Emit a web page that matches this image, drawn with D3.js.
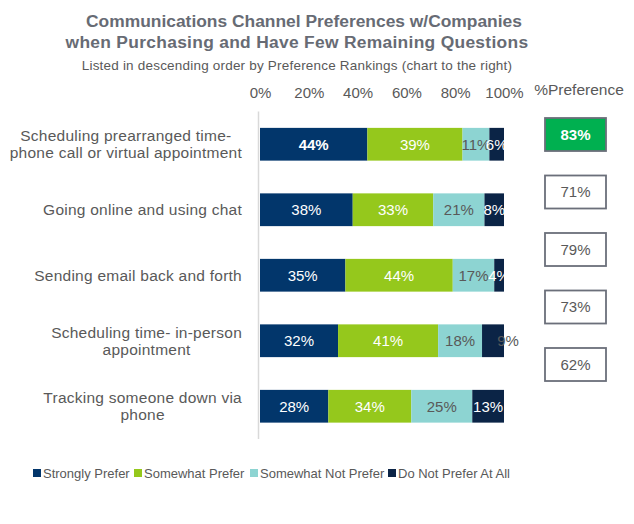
<!DOCTYPE html>
<html><head><meta charset="utf-8">
<script src="https://cdn.jsdelivr.net/npm/d3@7"></script>
<style>body{margin:0;background:#fff}svg{display:block;font-family:"Liberation Sans",Arial,sans-serif}</style>
</head><body><svg id="c" width="634" height="524"></svg>
<script>
const categories = [
  "Scheduling prearranged time-|phone call or virtual appointment",
  "Going online and using chat",
  "Sending email back and forth",
  "Scheduling time- in-person|appointment",
  "Tracking someone down via|phone"
];
const seriesNames = ["Strongly Prefer","Somewhat Prefer","Somewhat Not Prefer","Do Not Prefer At All"];
const stronglyPrefer    = [44,38,35,32,28];
const somewhatPrefer    = [39,33,44,41,34];
const somewhatNotPrefer = [11,21,17,18,25];
const doNotPrefer       = [6,8,4,9,13];
const preference = [83,71,79,73,62];
const xTicks = [0,20,40,60,80,100];
const title = ["Communications Channel Preferences w/Companies","when Purchasing and Have Few Remaining Questions"];
const subtitle = "Listed in descending order by Preference Rankings (chart to the right)";

const colors = ["#02366b","#95c81c","#8dd4d2","#0b2446"];
const labelColors = ["#ffffff","#ffffff","#595959","#ffffff"];
const grey = "#595959";

const svg = d3.select("#c");
const seriesVals = [stronglyPrefer, somewhatPrefer, somewhatNotPrefer, doNotPrefer];
const rows = categories.map((c,i)=>{const o={cat:c}; seriesNames.forEach((s,j)=>o[s]=seriesVals[j][i]); return o;});
const stack = d3.stack().keys(seriesNames)(rows);

const x = d3.scaleLinear().domain([0,100]).range([260,504]);
const y = d3.scaleBand().domain(categories).range([111.5,439]).paddingInner(0.5).paddingOuter(0.25);

// titles
svg.selectAll("text.title").data(title).join("text").attr("class","title")
  .attr("x",(d,i)=>i===0?304:297).attr("y",(d,i)=>27+i*21).attr("text-anchor","middle")
  .attr("font-size",17.4).attr("font-weight","bold").attr("fill","#676b74")
  .attr("letter-spacing",(d,i)=>i===0?0:0.3).text(d=>d);
svg.append("text").attr("x",297).attr("y",70).attr("text-anchor","middle")
  .attr("font-size",13.5).attr("letter-spacing",0.2).attr("fill",grey).text(subtitle);

// x axis at top
const xAxis = svg.append("g").attr("transform","translate(0,98)")
  .call(d3.axisTop(x).tickValues(xTicks).tickFormat(d=>d+"%").tickSize(0).tickPadding(0));
xAxis.select(".domain").remove();
xAxis.selectAll("text").attr("font-size",15).attr("fill",grey).attr("font-family","Liberation Sans, Arial, sans-serif").attr("dy",0);

// vertical axis line
svg.append("line").attr("x1",x(0)-1.5).attr("x2",x(0)-1.5).attr("y1",y.range()[0]).attr("y2",y.range()[1])
  .attr("stroke","#d9d9d9").attr("stroke-width",1.5);

// bars
const g = svg.append("g");
g.selectAll("g.s").data(stack).join("g").attr("class","s").attr("fill",(d,i)=>colors[i])
  .selectAll("rect").data(d=>d).join("rect")
  .attr("x",d=>x(d[0])).attr("width",d=>x(d[1])-x(d[0]))
  .attr("y",d=>y(d.data.cat)).attr("height",y.bandwidth());

// labels
svg.append("clipPath").attr("id","plotclip").append("rect")
  .attr("x",x(0)).attr("y",0).attr("width",x(100)-x(0)+1).attr("height",524);
const lab = svg.append("g");
stack.forEach((s,j)=>{
  s.forEach((d,i)=>{
    const v = d[1]-d[0];
    const overflow = (j===3 && i===3);
    const t = lab.append("text")
      .attr("x",(x(d[0])+x(d[1]))/2 + (overflow?15:0))
      .attr("y",y(d.data.cat)+y.bandwidth()/2).attr("dy","0.36em")
      .attr("text-anchor","middle").attr("font-size",15)
      .attr("fill",overflow?grey:labelColors[j])
      .attr("font-weight",(i===0&&j===0)?"bold":"normal")
      .text(v+"%");
    if(!overflow) t.attr("clip-path","url(#plotclip)");
  });
});

// category labels
categories.forEach(c=>{
  const lines = c.split("|");
  const lh = 17;
  const cy = y(c)+y.bandwidth()/2;
  const t = svg.append("g");
  const texts = lines.map((l,k)=>t.append("text")
    .attr("y",cy + (k-(lines.length-1)/2)*lh).attr("dy","0.36em")
    .attr("font-size",15.5).attr("letter-spacing",0.25).attr("fill",grey).attr("text-anchor","middle").text(l));
  const w = d3.max(texts,tx=>tx.node().getComputedTextLength());
  texts.forEach(tx=>tx.attr("x",242-w/2));
});

// preference boxes
svg.append("text").attr("x",579).attr("y",95).attr("text-anchor","middle")
  .attr("font-size",15.5).attr("fill",grey).text("%Preference");
const yb = d3.scaleBand().domain(categories).range([105.75,393.25]).paddingInner(0.426).paddingOuter(0.213);
const maxP = d3.max(preference);
const bx = svg.append("g");
categories.forEach((c,i)=>{
  const top = preference[i]===maxP;
  bx.append("rect").attr("x",545).attr("width",61).attr("y",yb(c)).attr("height",yb.bandwidth())
    .attr("fill",top?"#00b050":"#fff").attr("stroke","#6b6f7a").attr("stroke-width",1.8);
  bx.append("text").attr("x",575.5).attr("y",yb(c)+yb.bandwidth()/2).attr("dy","0.36em")
    .attr("text-anchor","middle").attr("font-size",15).attr("font-weight",top?"bold":"normal")
    .attr("fill",top?"#fff":grey).text(preference[i]+"%");
});

// legend
const legX = [33,134,250,388];
const leg = svg.append("g");
seriesNames.forEach((s,i)=>{
  leg.append("rect").attr("x",legX[i]).attr("y",469).attr("width",8).attr("height",8).attr("fill",colors[i]);
  leg.append("text").attr("x",legX[i]+10).attr("y",473).attr("dy","0.36em").attr("font-size",13)
    .attr("fill",grey).text(s);
});
</script></body></html>
